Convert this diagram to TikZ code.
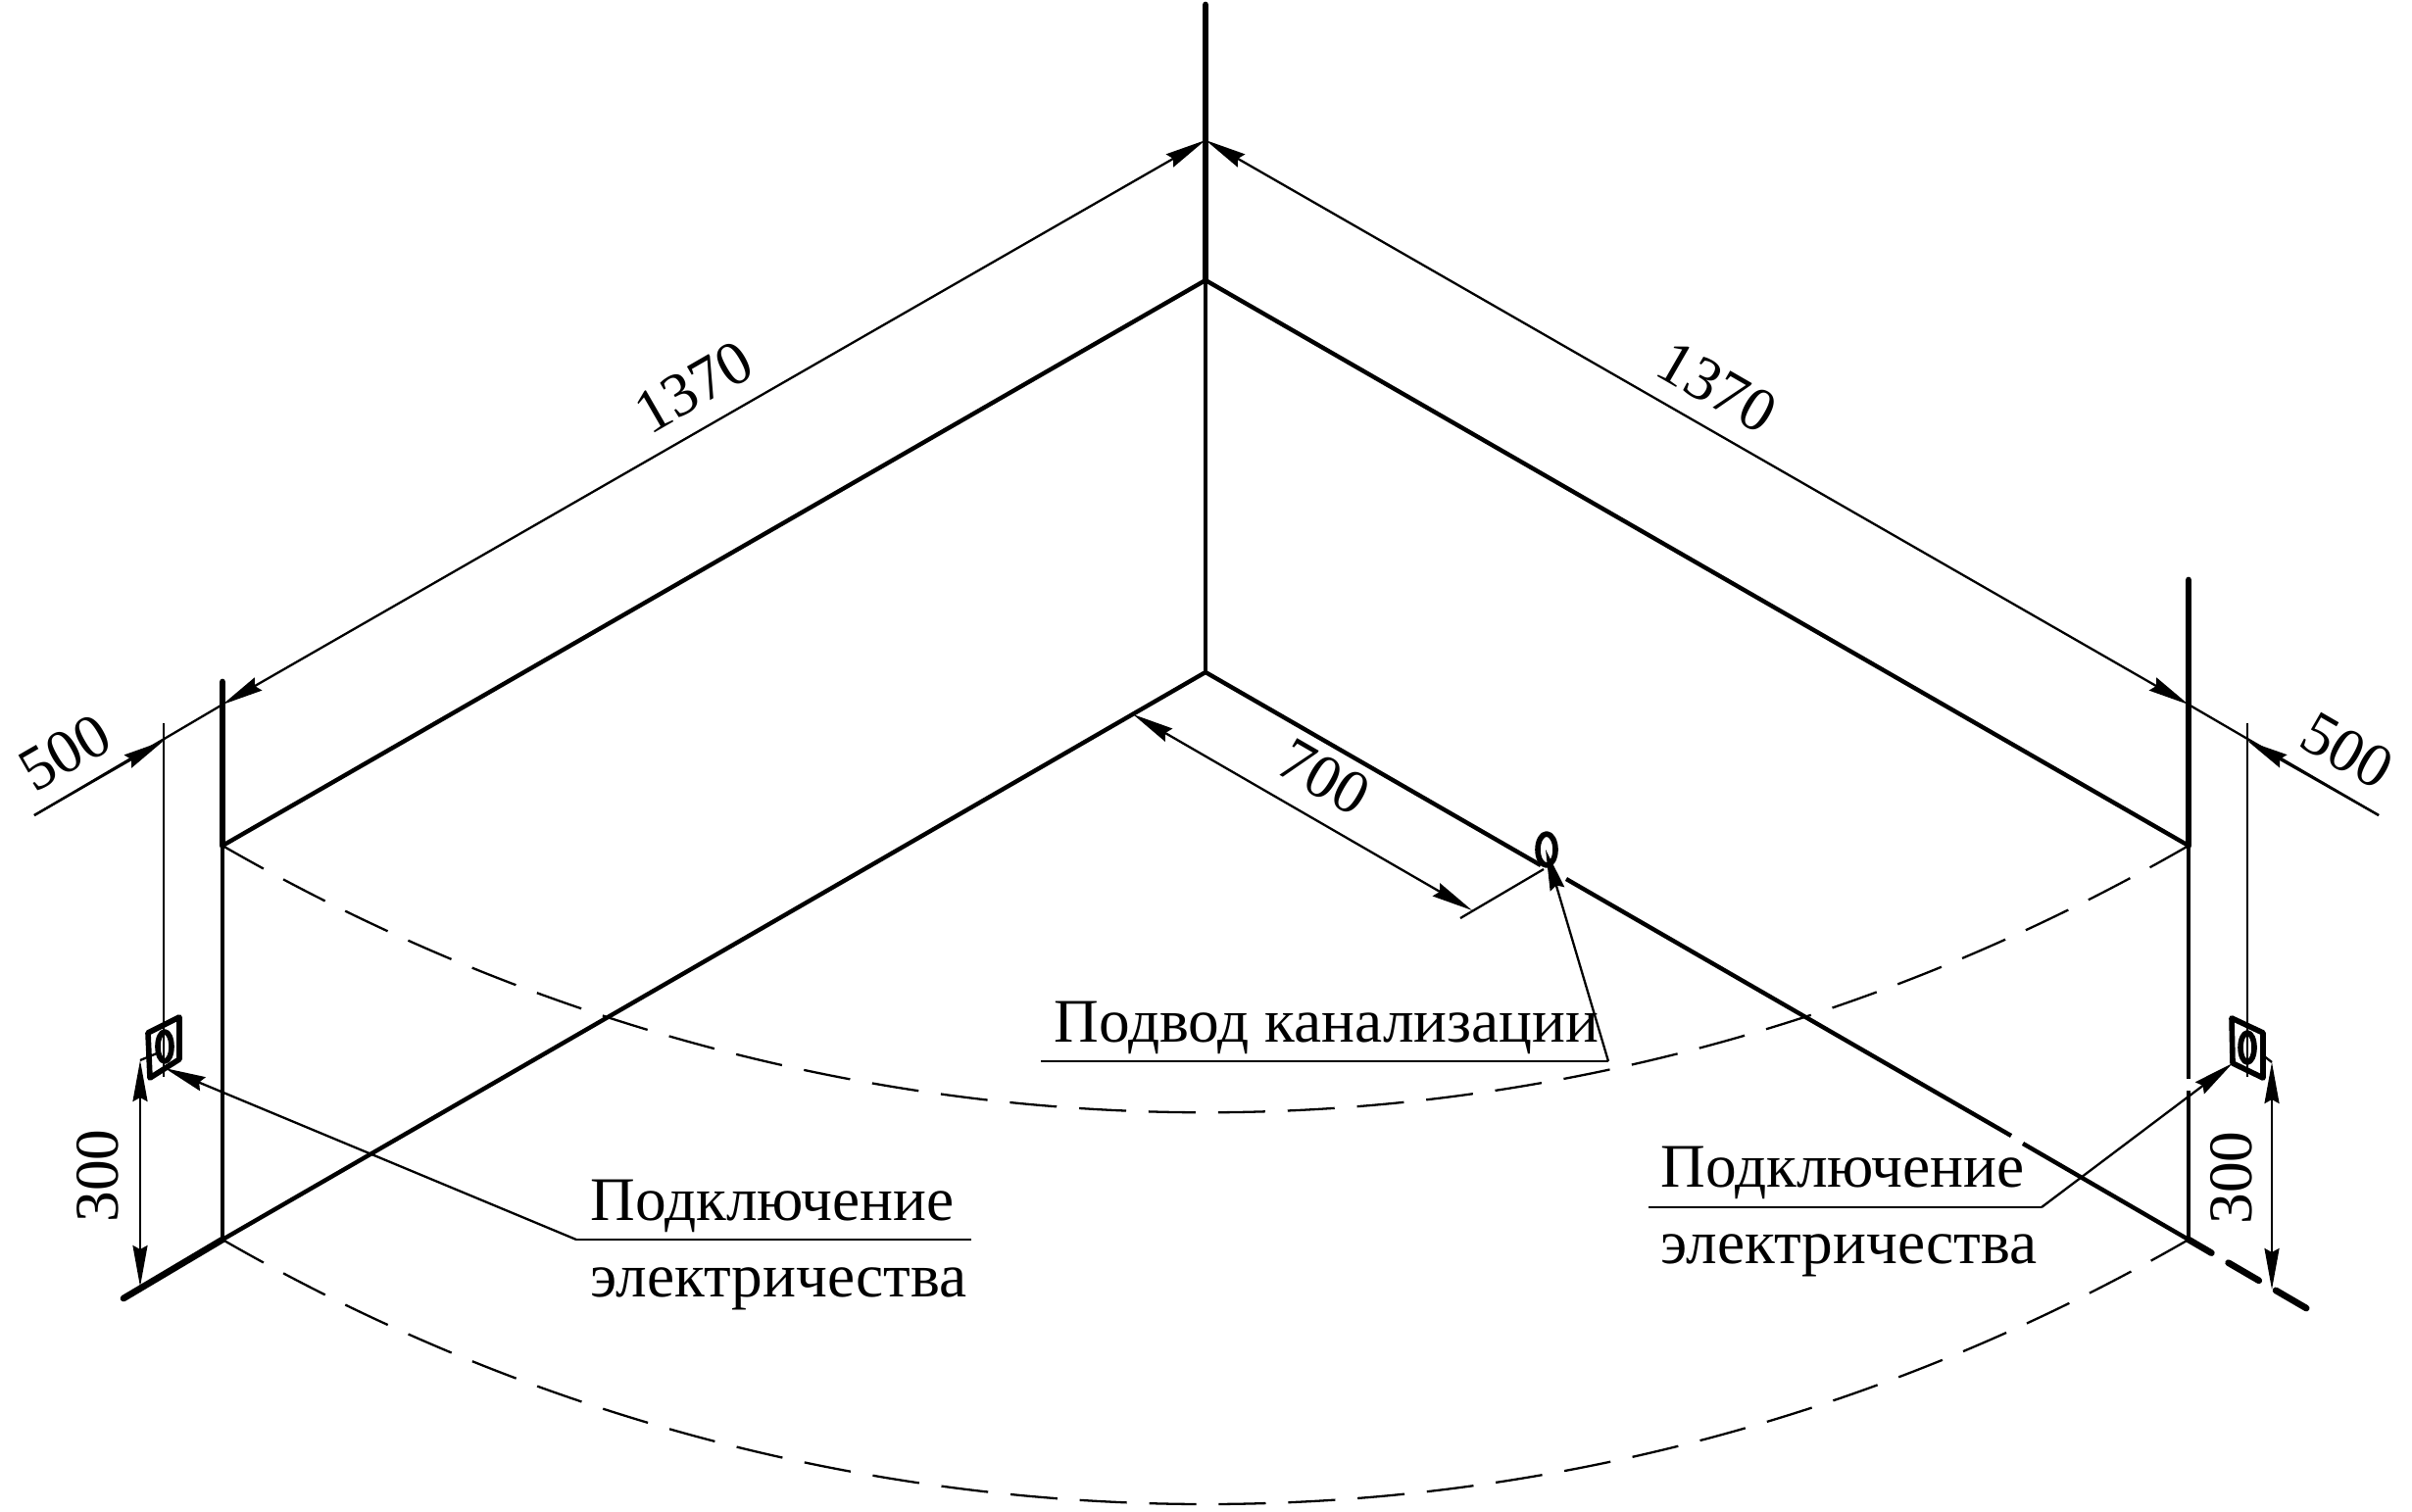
\documentclass[tikz,border=0pt]{standalone}
\usepackage{fontspec}
\setmainfont{Liberation Serif}
\usepackage{tikz}
\usetikzlibrary{positioning,%
  arrows.meta,%
  calc%
}

\tikzset{
  wall/.style={line width=1.25pt},
  upper/.style={line width=1.9pt,line cap=round},
  thin line/.style={line width=.65pt},
  dim/.style={thin line,{Stealth[length=.42cm,width=.15cm,inset=.04cm]}-{Stealth[length=.42cm,width=.15cm,inset=.04cm]}},
  lead/.style={thin line,-{Stealth[length=.42cm,width=.15cm,inset=.04cm]}},
  contour/.style={line width=.65pt,dash pattern=on .48cm off .229cm},
  socket/.style={line width=1.6pt,line join=round},
  caption/.style={font=\fontsize{18}{22}\selectfont,inner sep=0pt,anchor=base west},
  size/.style={font=\fontsize{18}{22}\selectfont,inner sep=0pt}
}

\begin{document}
\begin{tikzpicture}[x=.01cm,y=-.01cm]
  \useasboundingbox (0,0) rectangle (2461,1543);

  % corner points
  \coordinate (top) at (1230,5);
  \coordinate (apex) at (1230,143);
  \coordinate (rim) at (1230,286);
  \coordinate (corner) at (1230,686);
  \coordinate (ltop) at (227,696);
  \coordinate (lapex) at (227,719);
  \coordinate (lrim) at (227,863);
  \coordinate (lfoot) at (227,1265);
  \coordinate (ltoe) at (126,1325);
  \coordinate (rtop) at (2233,592);
  \coordinate (rapex) at (2233,719);
  \coordinate (rrim) at (2233,863);
  \coordinate (rfoot) at (2233,1265);
  \coordinate (rtoe) at (2360,1339);

  % walls
  \draw[upper] (top) -- (rim);
  \draw[upper] (ltop) -- (lrim);
  \draw[upper] (rtop) -- (rrim);
  \draw[wall] (lrim) -- (rim) -- (rrim);
  \draw[wall] (rim) -- (corner);
  \draw[wall] (lrim) -- (lfoot);
  \draw[wall] (rrim) -- (2233,1101) (2233,1113) -- (rfoot);
  \draw[wall] (lfoot) -- (corner) -- (1572,883);
  \draw[wall] (1598,897) -- (2052,1159) (2064,1167) -- (rfoot);
  \draw[upper] (lfoot) -- (ltoe);
  \draw[upper,dash pattern=on .36cm off .2cm,dash phase=.09cm] (rfoot) -- (rtoe);

  % bath contour
  \draw[contour] (lrim) .. controls (857,1226) and (1604,1226) .. (rrim);
  \draw[contour] (lfoot) .. controls (852,1625) and (1609,1625) .. (rfoot);

  % drain
  \coordinate (drain) at (1578,867);
  \draw[socket] (drain) ellipse [x radius=9,y radius=16];
  \draw[thin line] (1490,937) -- (1575,887);
  \coordinate (drainfoot) at (1502,929);
  \coordinate (wallpoint) at (1156,729);
  \draw[dim] (wallpoint) -- (drainfoot);
  \node[size,rotate=-30] (d700) at (1351,793) {700};
  \coordinate (drainbend) at (1641,1083);
  \draw[thin line] (1062,1083) -- (drainbend);
  \draw[lead] (drainbend) -- (1577,867);
  \node[caption] (drainlabel) at (1075,1063) {Подвод канализации};

  % left socket
  \draw[socket] (151,1054) -- (183,1038) -- (183,1081) -- (153,1100) -- cycle;
  \draw[socket] (168,1068) ellipse [x radius=7,y radius=15];
  \draw[thin line] (143,1082) -- (160,1075);
  \draw[thin line] (167,738) -- (167,1099);
  \draw[thin line] (35,832) -- (lapex);
  \draw[lead] (35,832) -- (167,756);
  \coordinate (lsocket) at (168,1090);
  \coordinate (lbend) at (588,1265);
  \draw[thin line] (991,1265) -- (lbend);
  \draw[lead] (lbend) -- (lsocket);
  \draw[dim] (143,1082) -- (143,1313);
  \node[size,rotate=90] (l300) at (100,1200) {300};
  \node[size,rotate=30] (l500) at (66,768) {500};
  \node[caption] (lupper) at (602,1245) {Подключение};
  \node[caption] (llower) at (602,1323) {электричества};

  % right socket
  \draw[socket] (2277,1039) -- (2309,1054) -- (2309,1100) -- (2278,1085) -- cycle;
  \draw[socket] (2293,1069) ellipse [x radius=7,y radius=15];
  \draw[thin line] (2309,1077) -- (2318,1084);
  \draw[thin line] (2293,738) -- (2293,1099);
  \draw[thin line] (2427,832) -- (rapex);
  \draw[lead] (2427,832) -- (2293,756);
  \coordinate (rsocket) at (2278,1085);
  \coordinate (rbend) at (2083,1232);
  \draw[thin line] (1682,1232) -- (rbend);
  \draw[lead] (rbend) -- (rsocket);
  \draw[dim] (2318,1084) -- (2318,1316);
  \node[size,rotate=90] (r300) at (2277,1202) {300};
  \node[size,rotate=-30] (r500) at (2395,766) {500};
  \node[caption] (rupper) at (1694,1211) {Подключение};
  \node[caption] (rlower) at (1694,1289) {электричества};

  % long dimensions
  \draw[dim] (lapex) -- (apex);
  \draw[dim] (apex) -- (rapex);
  \node[size,rotate=30] (l1370) at (708,395) {1370};
  \node[size,rotate=-30] (r1370) at (1752,395) {1370};
\end{tikzpicture}
\end{document}
